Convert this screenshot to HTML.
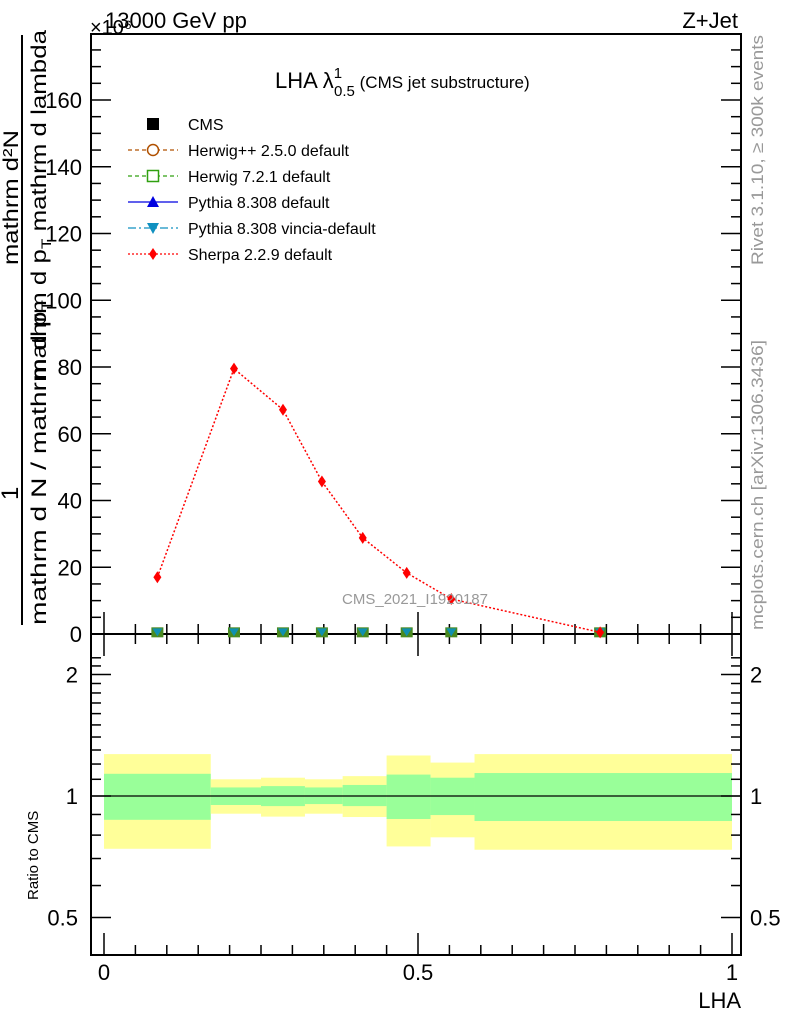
<!DOCTYPE html>
<html><head><meta charset="utf-8"><style>
body{margin:0;background:#fff;}
svg{display:block;font-family:"Liberation Sans",sans-serif;}
</style></head><body>
<svg id="c" width="786" height="1024" viewBox="0 0 786 1024">
<g id="bands"></g>
<g id="frames" fill="none" stroke="#000" stroke-width="2">
<rect x="91" y="34" width="650" height="600"/>
<rect x="91" y="634" width="650" height="321"/>
</g>
<g id="ticks" stroke="#000" stroke-width="1.5"></g>
<g id="labels" font-size="22" fill="#000"></g>
<g id="series"></g>
<text x="105" y="28" font-size="22">13000 GeV pp</text>
<text x="90" y="34" font-size="20">×10⁶</text>
<text x="738" y="28" font-size="22" text-anchor="end">Z+Jet</text>
<text x="275" y="88" font-size="22">LHA λ<tspan font-size="15" dy="-10">1</tspan><tspan font-size="15" dx="-8" dy="18">0.5</tspan><tspan font-size="17" dy="-8"> (CMS jet substructure)</tspan></text>
<text x="415" y="604" font-size="15" fill="#999" text-anchor="middle">CMS_2021_I1920187</text>
<text transform="translate(763,265) rotate(-90)" font-size="17" fill="#999" textLength="230" lengthAdjust="spacingAndGlyphs">Rivet 3.1.10, ≥ 300k events</text>
<text transform="translate(763,630) rotate(-90)" font-size="17" fill="#999" textLength="290" lengthAdjust="spacingAndGlyphs">mcplots.cern.ch [arXiv:1306.3436]</text>
<g font-size="21">
<text transform="translate(18,265) rotate(-90)" textLength="135" lengthAdjust="spacingAndGlyphs">mathrm d²N</text>
<text transform="translate(18,500) rotate(-90)" font-size="24">1</text>
<line x1="22" y1="35" x2="22" y2="625" stroke="#000" stroke-width="2"/>
<text transform="translate(46,625) rotate(-90)" textLength="325" lengthAdjust="spacingAndGlyphs">mathrm d N / mathrm d p<tspan font-size="14" dy="5">T</tspan></text>
<text transform="translate(46,380) rotate(-90)" textLength="350" lengthAdjust="spacingAndGlyphs">mathrm d p<tspan font-size="14" dy="5">T</tspan><tspan dy="-5"> mathrm d lambda</tspan></text>
</g>
<text transform="translate(38,900) rotate(-90)" font-size="15">Ratio to CMS</text>
<text x="741" y="1008" font-size="22" text-anchor="end">LHA</text>
<g id="legend" font-size="16"></g>
</svg>
<script>
const binEdges=[0,0.17,0.25,0.32,0.38,0.45,0.52,0.59,1.0];
const pointX=[0.085,0.207,0.285,0.347,0.412,0.482,0.553,0.79];
const sherpaVals=[17,79.5,67.2,45.7,28.8,18.3,10.5,0.5];
const cmsVals=[0.5,0.5,0.5,0.5,0.5,0.5,0.5,0.5];
const yellowUp=[1.27,1.10,1.11,1.10,1.12,1.26,1.21,1.27];
const yellowLo=[0.74,0.904,0.889,0.904,0.887,0.75,0.79,0.736];
const greenUp=[1.135,1.05,1.058,1.05,1.065,1.13,1.11,1.14];
const greenLo=[0.873,0.95,0.944,0.955,0.944,0.877,0.897,0.867];
const yTicks=[0,20,40,60,80,100,120,140,160];
const xTicks=[0,0.5,1];
const xTickLabels=["0","0.5","1"];
const rTicks=[0.5,1,2];
const rTickLabels=["0.5","1","2"];

const NS="http://www.w3.org/2000/svg";
const X=v=>104+v*628;
const Y=v=>634-v*(534/160);
const R=v=>796-Math.log2(v)*121.5;
function mk(t,a,p){const e=document.createElementNS(NS,t);for(const k in a)e.setAttribute(k,a[k]);p.appendChild(e);return e;}
const bands=document.getElementById('bands'),ticks=document.getElementById('ticks'),labels=document.getElementById('labels'),series=document.getElementById('series'),legend=document.getElementById('legend');
for(let i=0;i<binEdges.length-1;i++){
 const x0=X(binEdges[i]),w=X(binEdges[i+1])-x0;
 let e=mk('rect',{x:x0,y:R(yellowUp[i]),width:w,height:R(yellowLo[i])-R(yellowUp[i]),fill:'#ffff99'},bands);
 
 
 e=mk('rect',{x:x0,y:R(greenUp[i]),width:w,height:R(greenLo[i])-R(greenUp[i]),fill:'#99ff99'},bands);
 
 
}
let l=mk('line',{x1:91,x2:741,y1:R(1),y2:R(1),stroke:'#000','stroke-width':1.2},bands);


for(let v=0;v<=180;v+=5){const y=Y(v);if(y<34)break;const L=(v%20==0)?20:10;
 mk('line',{x1:91,x2:91+L,y1:y,y2:y},ticks);mk('line',{x1:741,x2:741-L,y1:y,y2:y},ticks);}
yTicks.forEach(v=>{const t=mk('text',{x:82,y:Y(v)+8,'text-anchor':'end'},labels);t.textContent=v;
 
 });
for(let v=0;v<=1.0001;v+=0.05){const x=X(v);const L=(Math.round(v*100)%50==0)?22:10;
 mk('line',{x1:x,x2:x,y1:634,y2:634-L},ticks);mk('line',{x1:x,x2:x,y1:634,y2:634+L},ticks);mk('line',{x1:x,x2:x,y1:955,y2:955-L},ticks);}
xTicks.forEach((v,i)=>{const t=mk('text',{x:X(v),y:980,'text-anchor':'middle'},labels);t.textContent=xTickLabels[i];
 
 });
const rMinor=[0.5,0.6,0.7,0.8,0.9,1,1.1,1.2,1.3,1.4,1.5,1.6,1.7,1.8,1.9,2,2.1,2.2];
rMinor.forEach(v=>{const y=R(v);const L=rTicks.includes(v)?20:10;
 mk('line',{x1:91,x2:91+L,y1:y,y2:y},ticks);mk('line',{x1:741,x2:741-L,y1:y,y2:y},ticks);});
rTicks.forEach((v,i)=>{let t=mk('text',{x:78,y:R(v)+8,'text-anchor':'end'},labels);t.textContent=rTickLabels[i];
 
 
 t=mk('text',{x:750,y:R(v)+8},labels);t.textContent=rTickLabels[i];
 
 });
pointX.forEach((px,i)=>{const x=X(px),y=Y(cmsVals[i]);
 let m=mk('rect',{x:x-6,y:y-5,width:12,height:10,fill:'#4a8a20'},series);
 
 
 m=mk('path',{d:`M${x-5},${y-4}L${x+5},${y-4}L${x},${y+4}Z`,fill:'#1090b0'},series);
 
 });
const pts=pointX.map((p,i)=>X(p)+','+Y(sherpaVals[i])).join(' ');
let pl=mk('polyline',{points:pts,fill:'none',stroke:'#f00','stroke-width':1.5,'stroke-dasharray':'2,2'},series);


pointX.forEach((p,i)=>{const x=X(p),y=Y(sherpaVals[i]);
 const d=mk('path',{d:`M${x},${y-6}L${x+4},${y}L${x},${y+6}L${x-4},${y}Z`,fill:'#f00'},series);
 
 });
const leg=[["CMS","none","#000","sq"],["Herwig++ 2.5.0 default","4,3","#b05000","circ"],["Herwig 7.2.1 default","4,3","#30a010","osq"],["Pythia 8.308 default","","#0000e0","tri"],["Pythia 8.308 vincia-default","8,3,2,3","#1090c0","itri"],["Sherpa 2.2.9 default","2,2","#f00","dia"]];
leg.forEach((e,i)=>{const y=124+i*26;const g=mk('g',{},legend);
 
 
 const c=e[2],x=153;
 if(e[1]!=="none")mk('line',{x1:128,x2:178,y1:y,y2:y,stroke:c,'stroke-width':1.3,'stroke-dasharray':e[1]},g);
 if(e[3]=="sq")mk('rect',{x:x-6,y:y-6,width:12,height:12,fill:'#000'},g);
 if(e[3]=="circ")mk('circle',{cx:x,cy:y,r:5.5,fill:'#fff',stroke:c,'stroke-width':1.5},g);
 if(e[3]=="osq")mk('rect',{x:x-5.5,y:y-5.5,width:11,height:11,fill:'#fff',stroke:c,'stroke-width':1.5},g);
 if(e[3]=="tri")mk('path',{d:`M${x-6},${y+5}L${x+6},${y+5}L${x},${y-6}Z`,fill:c},g);
 if(e[3]=="itri")mk('path',{d:`M${x-6},${y-5}L${x+6},${y-5}L${x},${y+6}Z`,fill:c},g);
 if(e[3]=="dia")mk('path',{d:`M${x},${y-6}L${x+4},${y}L${x},${y+6}L${x-4},${y}Z`,fill:c},g);
 const t=mk('text',{x:188,y:y+6},g);t.textContent=e[0];});
</script>
</body></html>
